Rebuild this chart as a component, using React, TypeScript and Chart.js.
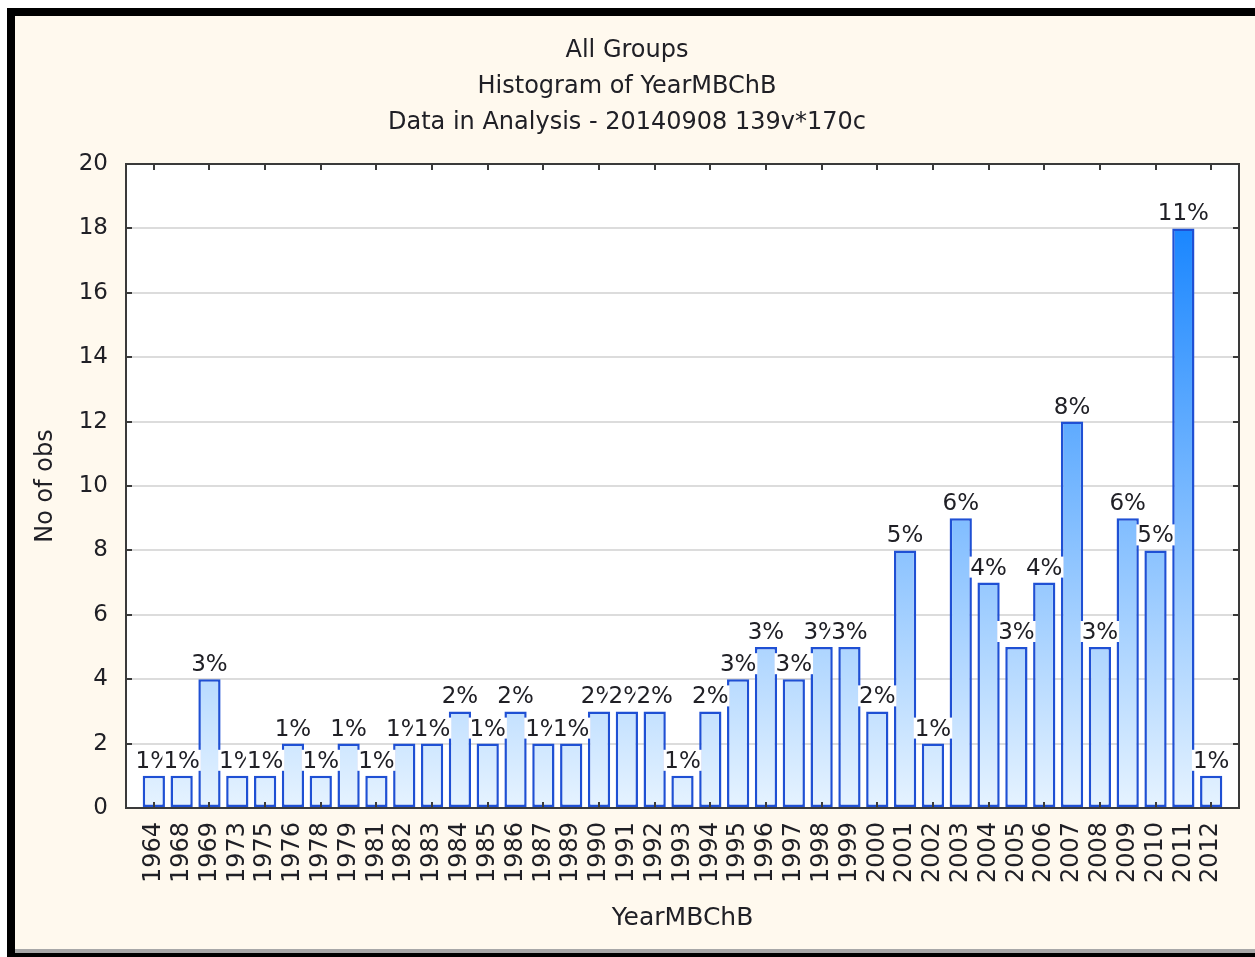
import React, { useEffect, useRef } from 'react';
import { Chart, registerables } from 'chart.js';

Chart.register(...registerables);

const categories = [
  '1964', '1968', '1969', '1973', '1975', '1976', '1978', '1979', '1981', '1982',
  '1983', '1984', '1985', '1986', '1987', '1989', '1990', '1991', '1992', '1993',
  '1994', '1995', '1996', '1997', '1998', '1999', '2000', '2001', '2002', '2003',
  '2004', '2005', '2006', '2007', '2008', '2009', '2010', '2011', '2012',
];

const counts = [
  1, 1, 4, 1, 1, 2, 1, 2, 1, 2,
  2, 3, 2, 3, 2, 2, 3, 3, 3, 1,
  3, 4, 5, 4, 5, 5, 3, 8, 2, 9,
  7, 5, 7, 12, 5, 9, 8, 18, 1,
];

const percentLabels = [
  '1%', '1%', '3%', '1%', '1%', '1%', '1%', '1%', '1%', '1%',
  '1%', '2%', '1%', '2%', '1%', '1%', '2%', '2%', '2%', '1%',
  '2%', '3%', '3%', '3%', '3%', '3%', '2%', '5%', '1%', '6%',
  '4%', '3%', '4%', '8%', '3%', '6%', '5%', '11%', '1%',
];

const titleLines = ['All Groups', 'Histogram of YearMBChB', 'Data in Analysis - 20140908 139v*170c'];
const xAxisTitle = 'YearMBChB';
const yAxisTitle = 'No of obs';
const yMin = 0;
const yMax = 20;
const yStep = 2;

const FONT = '"DejaVu Sans", sans-serif';
const TEXT = '#202026';

export default function App() {
  const ref = useRef<HTMLCanvasElement>(null);

  useEffect(() => {
    const canvas = ref.current;
    if (!canvas) return;

    const labels = ['', ...categories, ''];
    const data: (number | null)[] = [null, ...counts, null];
    const pct = ['', ...percentLabels, ''];

    const decorPlugin = {
      id: 'decor',
      beforeDraw(chart: any) {
        const { ctx, chartArea: a } = chart;
        ctx.save();
        ctx.fillStyle = '#ffffff';
        ctx.fillRect(a.left, a.top, a.right - a.left, a.bottom - a.top);
        ctx.restore();
      },
      afterDatasetsDraw(chart: any) {
        const { ctx, chartArea: a, scales } = chart;
        const ys = scales.y;
        const xs = scales.x;
        ctx.save();
        ctx.strokeStyle = '#3a3a3a';
        ctx.lineWidth = 2;
        ctx.beginPath();
        for (let v = yMin; v <= yMax; v += yStep) {
          const py = Math.round(ys.getPixelForValue(v));
          ctx.moveTo(a.left, py);
          ctx.lineTo(a.left + 6, py);
          ctx.moveTo(a.right, py);
          ctx.lineTo(a.right - 6, py);
        }
        for (let i = 0; i < categories.length; i += 2) {
          const px = Math.round(xs.getPixelForValue(i + 1));
          ctx.moveTo(px, a.top);
          ctx.lineTo(px, a.top + 6);
          ctx.moveTo(px, a.bottom);
          ctx.lineTo(px, a.bottom - 6);
        }
        ctx.stroke();
        ctx.strokeRect(a.left, a.top, a.right - a.left, a.bottom - a.top);

        const meta = chart.getDatasetMeta(0);
        ctx.font = `23px ${FONT}`;
        ctx.textAlign = 'center';
        ctx.textBaseline = 'alphabetic';
        meta.data.forEach((el: any, i: number) => {
          const t = pct[i];
          if (!t) return;
          const by = el.y - 8;
          const w = ctx.measureText(t).width;
          ctx.fillStyle = '#ffffff';
          ctx.fillRect(el.x - w / 2 - 1, by - 18, w + 2, 21);
          ctx.fillStyle = TEXT;
          ctx.fillText(t, el.x, by);
        });
        ctx.restore();
      },
    };

    const chart = new Chart(canvas, {
      type: 'bar',
      data: {
        labels,
        datasets: [
          {
            data,
            backgroundColor: (c: any) => {
              const ch = c.chart;
              const ys = ch.scales && ch.scales.y;
              if (!ys || !ch.chartArea) return '#8cc4ff';
              const g = ch.ctx.createLinearGradient(0, ys.getPixelForValue(yMin), 0, ys.getPixelForValue(yMax));
              g.addColorStop(0, '#e6f3ff');
              g.addColorStop(1, '#037aff');
              return g;
            },
            borderColor: '#1f50d4',
            borderWidth: 2.5,
            borderSkipped: false,
            barPercentage: 0.8,
            categoryPercentage: 1,
          },
        ],
      },
      options: {
        responsive: false,
        animation: false,
        events: [],
        layout: { padding: { left: 0, right: 16, top: 0, bottom: 0 } },
        plugins: {
          legend: { display: false },
          tooltip: { enabled: false },
          title: {
            display: true,
            text: titleLines,
            color: TEXT,
            font: { family: FONT, size: 24, weight: 'normal', lineHeight: '36px' },
            padding: { top: 17, bottom: 23 },
          },
        },
        scales: {
          x: {
            type: 'category',
            offset: false,
            grid: { display: false, drawTicks: false },
            border: { display: false },
            ticks: {
              autoSkip: false,
              minRotation: 90,
              maxRotation: 90,
              padding: 14,
              color: TEXT,
              font: { family: FONT, size: 24 },
            },
            title: {
              display: true,
              text: xAxisTitle,
              color: TEXT,
              font: { family: FONT, size: 25, lineHeight: 1.2 },
              padding: { top: 0, bottom: 16 },
            },
            afterFit: (s: any) => {
              s.height = 141;
              s.paddingLeft = 0;
              s.paddingRight = 0;
            },
          },
          y: {
            min: yMin,
            max: yMax,
            grid: { color: '#dcdcdc', lineWidth: 2, drawTicks: false },
            border: { display: false },
            ticks: {
              stepSize: yStep,
              padding: 18,
              color: TEXT,
              font: { family: FONT, size: 23 },
            },
            title: {
              display: true,
              text: yAxisTitle,
              color: TEXT,
              font: { family: FONT, size: 24, lineHeight: 1.2 },
              padding: { top: 16, bottom: 0 },
            },
            afterFit: (s: any) => {
              s.width = 111;
            },
          },
        },
      },
      plugins: [decorPlugin],
    } as any);

    return () => chart.destroy();
  }, []);

  return (
    <div
      style={{
        position: 'absolute',
        left: 7,
        top: 8,
        width: 1248,
        height: 949,
        background: '#000',
      }}
    >
      <div
        style={{
          position: 'absolute',
          left: 8,
          top: 8,
          width: 1240,
          height: 933,
          background: '#fff9ee',
        }}
      >
        <canvas ref={ref} width={1240} height={933} style={{ display: 'block' }} />
      </div>
      <div
        style={{
          position: 'absolute',
          left: 8,
          top: 941,
          width: 1240,
          height: 4,
          background: '#a8a8a8',
        }}
      />
    </div>
  );
}
